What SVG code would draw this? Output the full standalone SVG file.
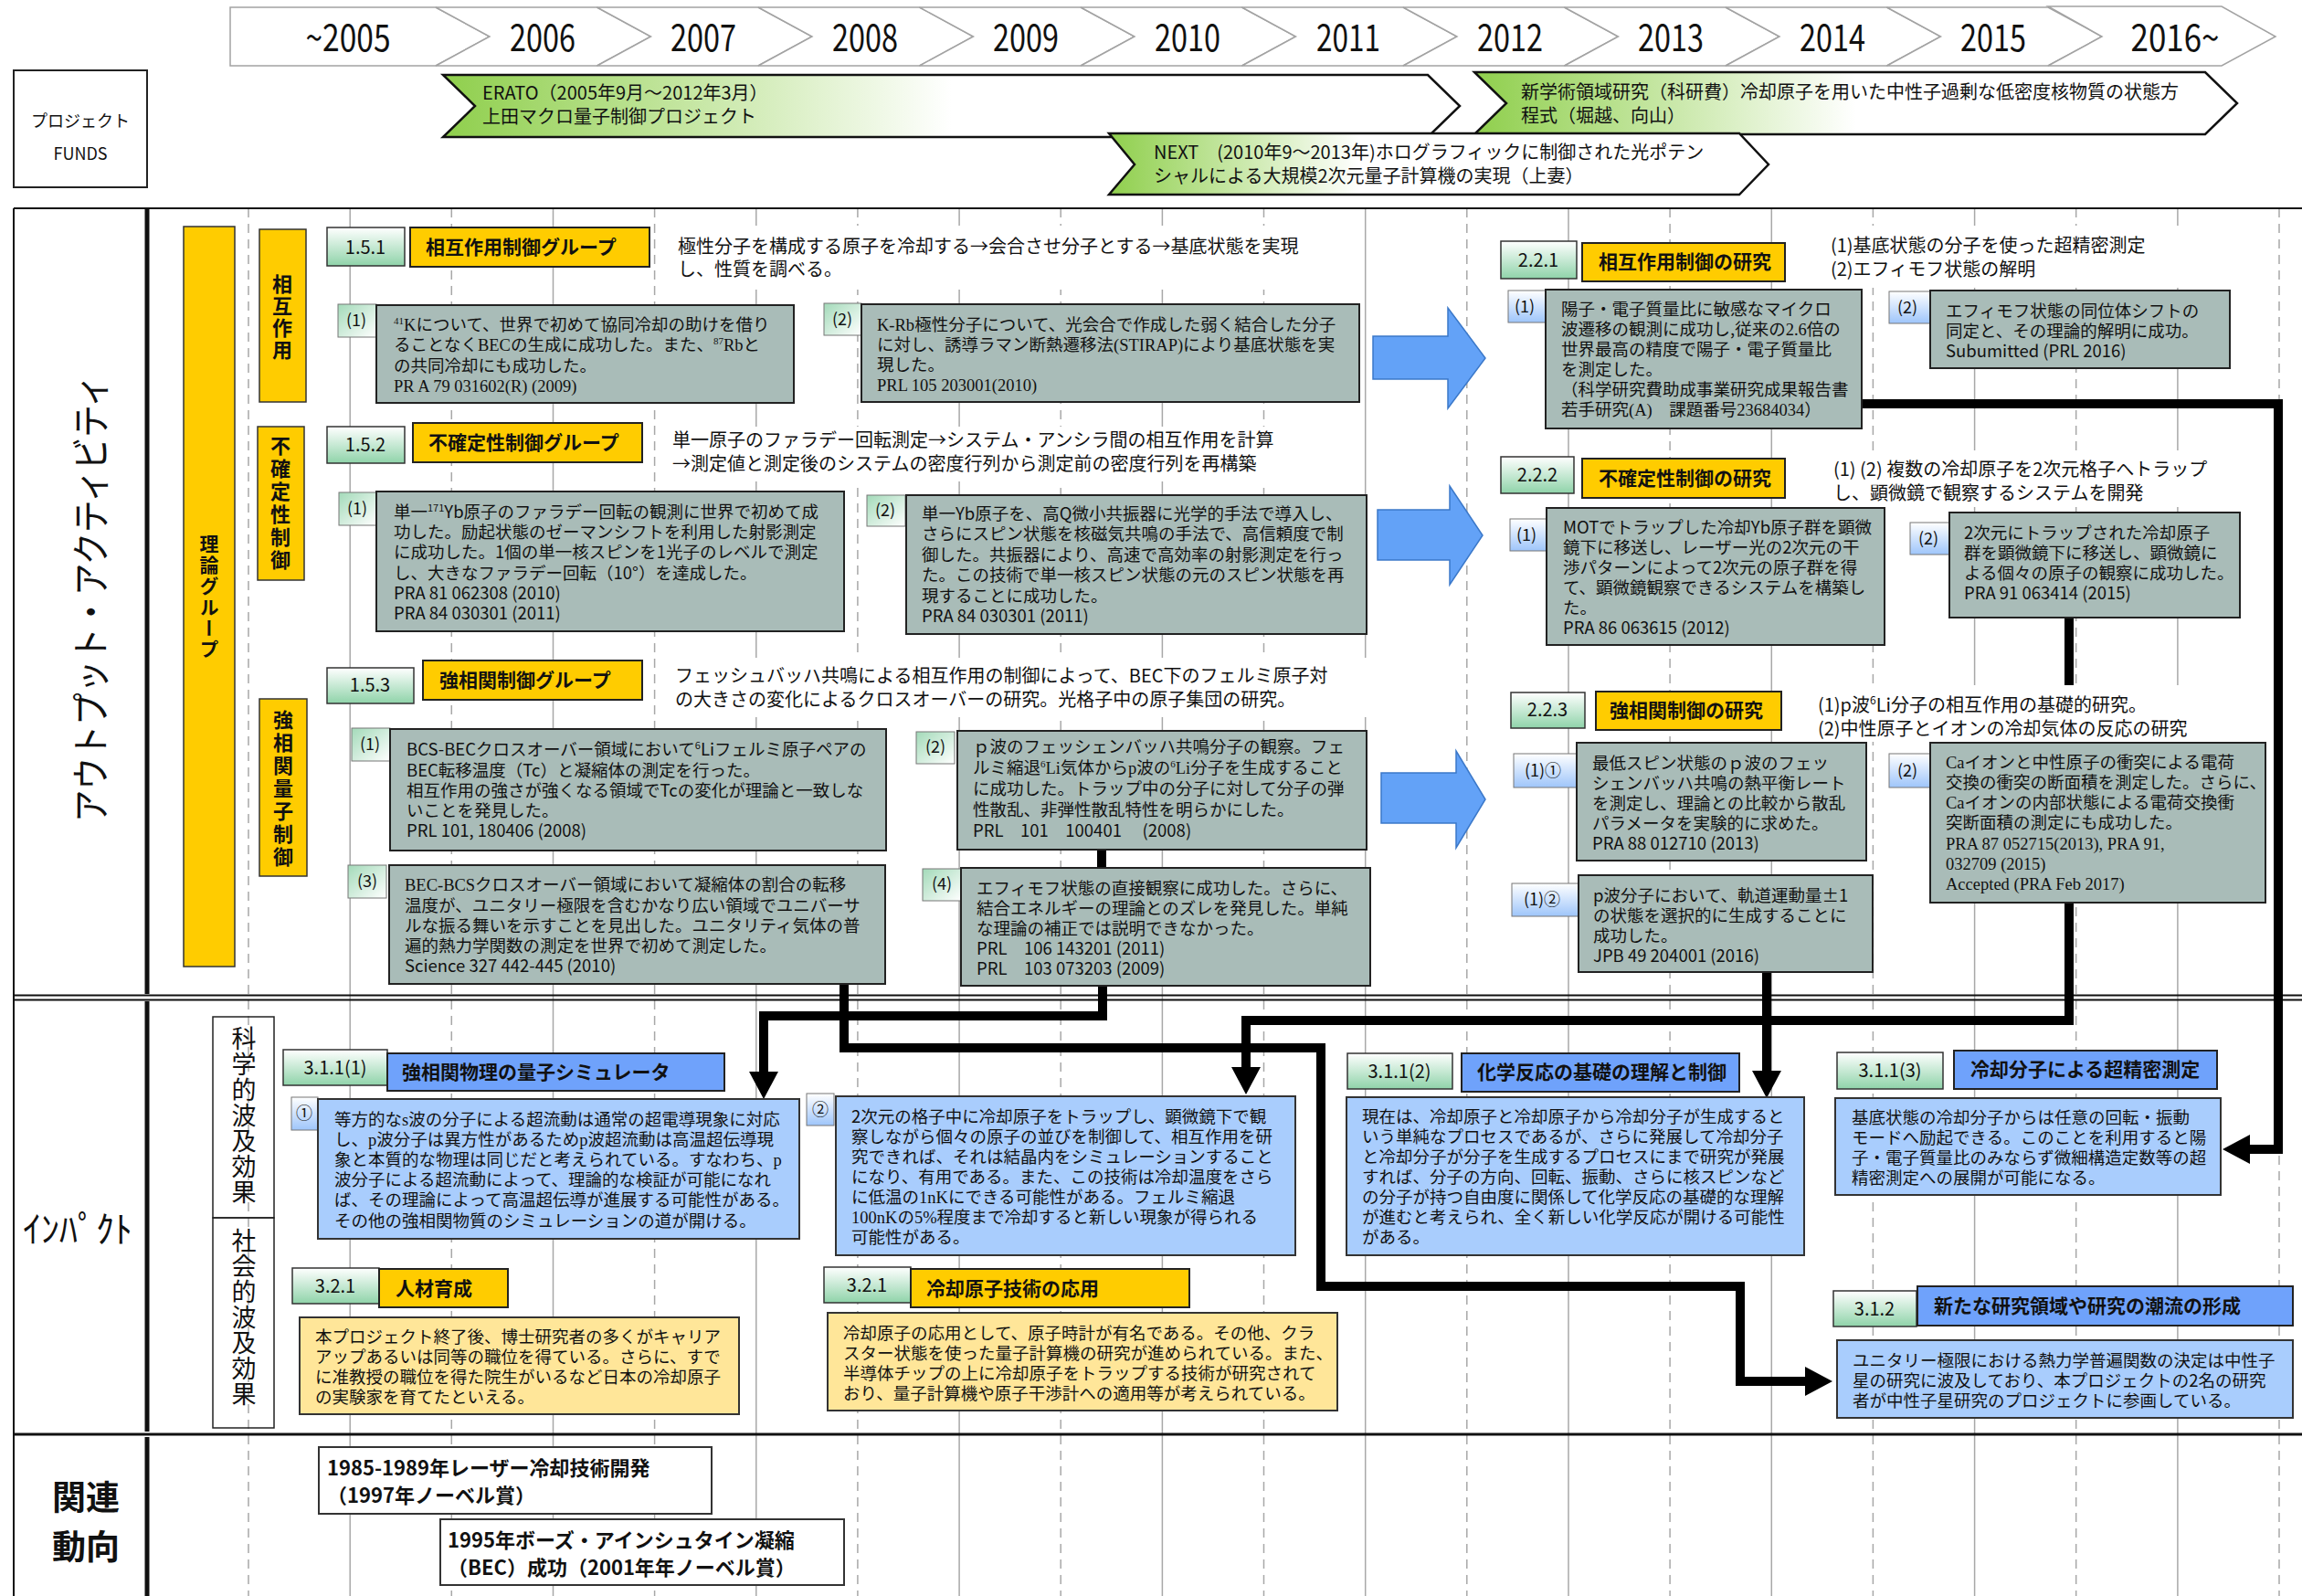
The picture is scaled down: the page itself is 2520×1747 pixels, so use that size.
<svg xmlns="http://www.w3.org/2000/svg" width="2520" height="1747" viewBox="0 0 2520 1747">
<defs>
<style>
text{font-family:"Noto Sans CJK JP","Noto Sans",sans-serif;fill:#111}
.t{font-size:18.5px}
.d{font-size:20px}
.h{font-size:21px;font-weight:bold}
.n{font-size:20px;text-anchor:middle}
.l{font-size:18px;text-anchor:middle}
.yr{font-size:40px;text-anchor:middle}
.s{font-family:"Liberation Serif","Noto Serif CJK JP",serif}
.v{writing-mode:vertical-rl;text-anchor:middle}
.grid{stroke:#a8a8a8;stroke-width:1.5}
.dash{stroke-dasharray:10 7}
.fr{stroke:#111;fill:none}
.chev{fill:#fff;stroke:#a3a3a3;stroke-width:1.5}
.fund{stroke:#111;stroke-width:2.5}
.gbox{fill:#a9bcb8;stroke:#222;stroke-width:2}
.lg{fill:url(#gLbl);stroke:#777;stroke-width:1}
.lb{fill:url(#bLbl);stroke:#777;stroke-width:1}
.num{fill:url(#gNum);stroke:#333;stroke-width:1.5}
.yt{fill:#ffcc00;stroke:#222;stroke-width:2}
.bt{fill:#6fa2fb;stroke:#222;stroke-width:2}
.bb{fill:#a9cdfd;stroke:#333;stroke-width:2}
.yb{fill:#ffe699;stroke:#333;stroke-width:2}
.wb{fill:#fff;stroke:none}
.conn{fill:none;stroke:#000;stroke-width:10;stroke-linejoin:miter;stroke-linecap:butt}
.barrow{fill:#63a2f7;stroke:#3b78c9;stroke-width:1.5}
.rel{fill:#fff;stroke:#333;stroke-width:2}
</style>
<linearGradient id="gNum" x1="0" y1="0" x2="0" y2="1"><stop offset="0" stop-color="#ffffff"/><stop offset="1" stop-color="#8fd3a9"/></linearGradient>
<linearGradient id="gLbl" x1="0" y1="0" x2="1" y2="1"><stop offset="0" stop-color="#a3dab9"/><stop offset="1" stop-color="#ffffff"/></linearGradient>
<linearGradient id="bLbl" x1="0" y1="0" x2="0" y2="1"><stop offset="0" stop-color="#ffffff"/><stop offset="1" stop-color="#9ec5fa"/></linearGradient>
<linearGradient id="gFund" x1="0" y1="0" x2="1" y2="0"><stop offset="0" stop-color="#8fcf4c"/><stop offset="0.5" stop-color="#ffffff"/></linearGradient>
<linearGradient id="gFund2" x1="0" y1="0" x2="1" y2="0"><stop offset="0" stop-color="#8fcf4c"/><stop offset="0.38" stop-color="#ffffff"/></linearGradient>
<marker id="ah" markerUnits="userSpaceOnUse" markerWidth="30" markerHeight="32" viewBox="0 0 30 32" refX="0" refY="16" orient="auto"><path d="M0,0 L30,16 L0,32 z" fill="#000"/></marker>
</defs>
<rect x="0" y="0" width="2520" height="1747" fill="#fff"/>

<g id="grid">
<line class="grid dash" x1="272" y1="228" x2="272" y2="1747"/>
<line class="grid" x1="383.2" y1="228" x2="383.2" y2="1747"/>
<line class="grid dash" x1="494.3" y1="228" x2="494.3" y2="1747"/>
<line class="grid" x1="605.5" y1="228" x2="605.5" y2="1747"/>
<line class="grid dash" x1="716.6" y1="228" x2="716.6" y2="1747"/>
<line class="grid" x1="827.8" y1="228" x2="827.8" y2="1747"/>
<line class="grid dash" x1="938.9" y1="228" x2="938.9" y2="1747"/>
<line class="grid" x1="1050.1" y1="228" x2="1050.1" y2="1747"/>
<line class="grid dash" x1="1161.2" y1="228" x2="1161.2" y2="1747"/>
<line class="grid" x1="1272.4" y1="228" x2="1272.4" y2="1747"/>
<line class="grid dash" x1="1383.5" y1="228" x2="1383.5" y2="1747"/>
<line class="grid" x1="1494.7" y1="228" x2="1494.7" y2="1747"/>
<line class="grid dash" x1="1605.8" y1="228" x2="1605.8" y2="1747"/>
<line class="grid" x1="1717" y1="228" x2="1717" y2="1747"/>
<line class="grid dash" x1="1828.1" y1="228" x2="1828.1" y2="1747"/>
<line class="grid" x1="1939.3" y1="228" x2="1939.3" y2="1747"/>
<line class="grid dash" x1="2050.4" y1="228" x2="2050.4" y2="1747"/>
<line class="grid" x1="2161.6" y1="228" x2="2161.6" y2="1747"/>
<line class="grid dash" x1="2272.7" y1="228" x2="2272.7" y2="1747"/>
<line class="grid" x1="2383.9" y1="228" x2="2383.9" y2="1747"/>
<line class="grid dash" x1="2495" y1="228" x2="2495" y2="1747"/>
</g>

<g id="frame">
<line class="fr" stroke-width="2" x1="15" y1="228" x2="2520" y2="228"/>
<line class="fr" stroke-width="2" x1="15" y1="228" x2="15" y2="1747"/>
<line class="fr" stroke-width="2" x1="15" y1="1089.5" x2="2520" y2="1089.5"/>
<line class="fr" stroke-width="2" x1="15" y1="1094.5" x2="2520" y2="1094.5"/>
<line class="fr" stroke-width="3" x1="15" y1="1570" x2="2520" y2="1570"/>
<line class="fr" stroke-width="5" x1="161" y1="228" x2="161" y2="1088"/>
<line class="fr" stroke-width="5" x1="161" y1="1096" x2="161" y2="1567"/>
<line class="fr" stroke-width="5" x1="161" y1="1573" x2="161" y2="1747"/>
</g>

<g id="timeline">
<polygon class="chev" points="252,8 477,8 536,40 477,72 252,72"/>
<polygon class="chev" points="477,8 653.5,8 712.5,40 653.5,72 477,72 536,40"/>
<polygon class="chev" points="653.5,8 830,8 889,40 830,72 653.5,72 712.5,40"/>
<polygon class="chev" points="830,8 1006.5,8 1065.5,40 1006.5,72 830,72 889,40"/>
<polygon class="chev" points="1006.5,8 1183,8 1242,40 1183,72 1006.5,72 1065.5,40"/>
<polygon class="chev" points="1183,8 1359.5,8 1418.5,40 1359.5,72 1183,72 1242,40"/>
<polygon class="chev" points="1359.5,8 1536,8 1595,40 1536,72 1359.5,72 1418.5,40"/>
<polygon class="chev" points="1536,8 1712.5,8 1771.5,40 1712.5,72 1536,72 1595,40"/>
<polygon class="chev" points="1712.5,8 1889,8 1948,40 1889,72 1712.5,72 1771.5,40"/>
<polygon class="chev" points="1889,8 2065.5,8 2124.5,40 2065.5,72 1889,72 1948,40"/>
<polygon class="chev" points="2065.5,8 2242,8 2301,40 2242,72 2065.5,72 2124.5,40"/>
<polygon class="chev" points="2242,7 2432,7 2491,40 2432,72 2242,72 2301,40"/>
<text class="yr" x="381" y="56" textLength="93" lengthAdjust="spacingAndGlyphs">~2005</text>
<text class="yr" x="594" y="56" textLength="72" lengthAdjust="spacingAndGlyphs">2006</text>
<text class="yr" x="770" y="56" textLength="72" lengthAdjust="spacingAndGlyphs">2007</text>
<text class="yr" x="947" y="56" textLength="72" lengthAdjust="spacingAndGlyphs">2008</text>
<text class="yr" x="1123" y="56" textLength="72" lengthAdjust="spacingAndGlyphs">2009</text>
<text class="yr" x="1300" y="56" textLength="72" lengthAdjust="spacingAndGlyphs">2010</text>
<text class="yr" x="1476" y="56" textLength="70" lengthAdjust="spacingAndGlyphs">2011</text>
<text class="yr" x="1653" y="56" textLength="72" lengthAdjust="spacingAndGlyphs">2012</text>
<text class="yr" x="1829" y="56" textLength="72" lengthAdjust="spacingAndGlyphs">2013</text>
<text class="yr" x="2006" y="56" textLength="72" lengthAdjust="spacingAndGlyphs">2014</text>
<text class="yr" x="2182" y="56" textLength="72" lengthAdjust="spacingAndGlyphs">2015</text>
<text class="yr" x="2381" y="56" textLength="97" lengthAdjust="spacingAndGlyphs">2016~</text>
</g>

<g id="funds-label">
<rect x="15" y="77" width="146" height="128" fill="#fff" stroke="#222" stroke-width="2"/>
<text x="88" y="139" font-size="18" text-anchor="middle">プロジェクト</text>
<text x="88" y="175" font-size="18" text-anchor="middle">FUNDS</text>
</g>

<g id="fund-erato">
<polygon class="fund" fill="url(#gFund)" points="485,82 1563,82 1598,116 1563,150 485,150 520,116"/>
<text class="d"><tspan x="528" y="109">ERATO（2005年9月～2012年3月）</tspan><tspan x="528" y="135">上田マクロ量子制御プロジェクト</tspan></text>
</g>
<g id="fund-kaken">
<polygon class="fund" fill="url(#gFund)" points="1614,79 2414,79 2449,113 2414,147 1614,147 1649,113"/>
<text class="d"><tspan x="1665" y="108">新学術領域研究（科研費）冷却原子を用いた中性子過剰な低密度核物質の状態方</tspan><tspan x="1665" y="134">程式（堀越、向山）</tspan></text>
</g>
<g id="fund-next">
<polygon class="fund" fill="url(#gFund2)" points="1214,146 1904,146 1936,180 1904,213 1214,213 1242,180"/>
<text class="d"><tspan x="1263" y="174">NEXT　(2010年9～2013年)ホログラフィックに制御された光ポテン</tspan><tspan x="1263" y="200">シャルによる大規模2次元量子計算機の実現（上妻）</tspan></text>
</g>

<g id="side-labels">
<text x="96" y="655" font-size="42" text-anchor="middle" dominant-baseline="central" transform="rotate(-90 96 655)" textLength="490" lengthAdjust="spacingAndGlyphs">アウトプット・アクティビティ</text>
<text x="85" y="1360" font-size="40" text-anchor="middle">ｲﾝﾊﾟｸﾄ</text>
<text x="94" y="1653" font-size="37" font-weight="bold" text-anchor="middle">関連</text>
<text x="94" y="1707" font-size="37" font-weight="bold" text-anchor="middle">動向</text>
</g>

<g id="connectors">
<polygon class="barrow" points="1503,368 1585,368 1585,337 1626,392 1585,447 1585,415 1503,415"/>
<polygon class="barrow" points="1508,558 1587,558 1587,532 1623,586 1587,640 1587,613 1508,613"/>
<polygon class="barrow" points="1512,846 1594,846 1594,822 1626,875 1594,928 1594,901 1512,901"/>
<path class="conn" d="M1206,930 V951"/>
<path class="conn" d="M2038,442 H2494 V1258 H2463" marker-end="url(#ah)"/>
<path class="conn" d="M924,1077 V1147 H1446 V1408 H1905 V1512 H1976" marker-end="url(#ah)"/>
<path class="conn" d="M1207,1079 V1112 H836 V1173" marker-end="url(#ah)"/>
<path class="conn" d="M1934,1064 V1172" marker-end="url(#ah)"/>
<path class="conn" d="M2265,676 V1117 H1364 V1168" marker-end="url(#ah)"/>
</g>

<g id="theory-group">
<rect x="201" y="248" width="56" height="810" fill="#ffcc00" stroke="#333" stroke-width="1.5"/>
<text class="v" x="229" y="654" font-size="21" font-weight="bold" letter-spacing="2">理論グループ</text>
</g>
<g id="grp-interaction">
<rect x="284" y="251" width="51" height="189" fill="#ffcc00" stroke="#333" stroke-width="1.5"/>
<text class="v" x="309" y="348" font-size="22" font-weight="bold" letter-spacing="2">相互作用</text>
</g>
<g id="grp-uncertainty">
<rect x="282" y="467" width="51" height="168" fill="#ffcc00" stroke="#333" stroke-width="1.5"/>
<text class="v" x="307" y="552" font-size="22" font-weight="bold" letter-spacing="3">不確定性制御</text>
</g>
<g id="grp-strong">
<rect x="284" y="765" width="52" height="194" fill="#ffcc00" stroke="#333" stroke-width="1.5"/>
<text class="v" x="310" y="864" font-size="22" font-weight="bold" letter-spacing="3">強相関量子制御</text>
</g>

<g id="h151">
<rect class="num" x="358" y="249" width="85" height="42"/>
<text class="n" x="400" y="278">1.5.1</text>
<rect class="yt" x="449" y="249" width="262" height="43"/>
<text class="h" x="466" y="278">相互作用制御グループ</text>
<rect class="wb" x="735" y="247" width="730" height="70"/>
<text class="d"><tspan x="742" y="277">極性分子を構成する原子を冷却する→会合させ分子とする→基底状態を実現</tspan><tspan x="742" y="302">し、性質を調べる。</tspan></text>
</g>
<g id="n151-1">
<rect class="lg" x="370" y="333" width="42" height="36"/>
<text class="l" x="390" y="357">(1)</text>
<rect class="gbox" x="412" y="334" width="457" height="107"/>
<text class="t"><tspan x="431" y="362"><tspan class="s" font-size="11" dy="-7">41</tspan><tspan class="s" dy="7">K</tspan>について、世界で初めて協同冷却の助けを借り</tspan><tspan x="431" y="384">ることなく<tspan class="s">BEC</tspan>の生成に成功した。また、<tspan class="s" font-size="11" dy="-7">87</tspan><tspan class="s" dy="7">Rb</tspan>と</tspan><tspan x="431" y="407">の共同冷却にも成功した。</tspan><tspan class="s" x="431" y="429">PR A 79 031602(R) (2009)</tspan></text>
</g>
<g id="n151-2">
<rect class="lg" x="902" y="332" width="41" height="35"/>
<text class="l" x="922" y="356">(2)</text>
<rect class="gbox" x="943" y="333" width="545" height="107"/>
<text class="t"><tspan x="960" y="362"><tspan class="s">K-Rb</tspan>極性分子について、光会合で作成した弱く結合した分子</tspan><tspan x="960" y="384">に対し、誘導ラマン断熱遷移法<tspan class="s">(STIRAP)</tspan>により基底状態を実</tspan><tspan x="960" y="406">現した。</tspan><tspan class="s" x="960" y="428">PRL 105 203001(2010)</tspan></text>
</g>

<g id="h152">
<rect class="num" x="358" y="467" width="85" height="40"/>
<text class="n" x="400" y="494">1.5.2</text>
<rect class="yt" x="452" y="463" width="251" height="43"/>
<text class="h" x="469" y="492">不確定性制御グループ</text>
<rect class="wb" x="732" y="467" width="730" height="60"/>
<text class="d"><tspan x="736" y="489">単一原子のファラデー回転測定→システム・アンシラ間の相互作用を計算</tspan><tspan x="736" y="515">→測定値と測定後のシステムの密度行列から測定前の密度行列を再構築</tspan></text>
</g>
<g id="n152-1">
<rect class="lg" x="371" y="539" width="41" height="36"/>
<text class="l" x="391" y="563">(1)</text>
<rect class="gbox" x="412" y="538" width="512" height="153"/>
<text class="t"><tspan x="431" y="567">単一<tspan font-size="11" dy="-7">171</tspan><tspan dy="7">Yb原子のファラデー回転の観測に世界で初めて成</tspan></tspan><tspan x="431" y="589">功した。励起状態のゼーマンシフトを利用した射影測定</tspan><tspan x="431" y="611">に成功した。1個の単一核スピンを1光子のレベルで測定</tspan><tspan x="431" y="634">し、大きなファラデー回転（10°）を達成した。</tspan><tspan x="431" y="656">PRA 81 062308 (2010)</tspan><tspan x="431" y="678">PRA 84 030301 (2011)</tspan></text>
</g>
<g id="n152-2">
<rect class="lg" x="949" y="542" width="42" height="34"/>
<text class="l" x="969" y="565">(2)</text>
<rect class="gbox" x="992" y="542" width="504" height="152"/>
<text class="t"><tspan x="1009" y="569">単一Yb原子を、高Q微小共振器に光学的手法で導入し、</tspan><tspan x="1009" y="591">さらにスピン状態を核磁気共鳴の手法で、高信頼度で制</tspan><tspan x="1009" y="614">御した。共振器により、高速で高効率の射影測定を行っ</tspan><tspan x="1009" y="636">た。この技術で単一核スピン状態の元のスピン状態を再</tspan><tspan x="1009" y="659">現することに成功した。</tspan><tspan x="1009" y="681">PRA 84 030301 (2011)</tspan></text>
</g>

<g id="h153">
<rect class="num" x="358" y="731" width="95" height="39"/>
<text class="n" x="405" y="757">1.5.3</text>
<rect class="yt" x="463" y="723" width="240" height="43"/>
<text class="h" x="481" y="752">強相関制御グループ</text>
<rect class="wb" x="732" y="720" width="768" height="65"/>
<text class="d"><tspan x="739" y="747">フェッシュバッハ共鳴による相互作用の制御によって、BEC下のフェルミ原子対</tspan><tspan x="739" y="773">の大きさの変化によるクロスオーバーの研究。光格子中の原子集団の研究。</tspan></text>
</g>
<g id="n153-1">
<rect class="lg" x="385" y="797" width="42" height="36"/>
<text class="l" x="405" y="821">(1)</text>
<rect class="gbox" x="427" y="798" width="543" height="133"/>
<text class="t"><tspan x="445" y="827">BCS-BECクロスオーバー領域において<tspan font-size="11" dy="-7">6</tspan><tspan dy="7">Liフェルミ原子ペアの</tspan></tspan><tspan x="445" y="850">BEC転移温度（Tc）と凝縮体の測定を行った。</tspan><tspan x="445" y="872">相互作用の強さが強くなる領域でTcの変化が理論と一致しな</tspan><tspan x="445" y="894">いことを発見した。</tspan><tspan x="445" y="916">PRL 101, 180406 (2008)</tspan></text>
</g>
<g id="n153-2">
<rect class="lg" x="1003" y="801" width="42" height="35"/>
<text class="l" x="1024" y="824">(2)</text>
<rect class="gbox" x="1048" y="800" width="448" height="130"/>
<text class="t"><tspan x="1065" y="824">ｐ波のフェッシェンバッハ共鳴分子の観察。フェ</tspan><tspan x="1065" y="847">ルミ縮退<tspan class="s" font-size="11" dy="-7">6</tspan><tspan class="s" dy="7">Li</tspan>気体から<tspan class="s">p</tspan>波の<tspan class="s" font-size="11" dy="-7">6</tspan><tspan class="s" dy="7">Li</tspan>分子を生成すること</tspan><tspan x="1065" y="870">に成功した。トラップ中の分子に対して分子の弾</tspan><tspan x="1065" y="893">性散乱、非弾性散乱特性を明らかにした。</tspan><tspan x="1065" y="916">PRL　101　100401　 (2008)</tspan></text>
</g>
<g id="n153-3">
<rect class="lg" x="381" y="947" width="42" height="36"/>
<text class="l" x="402" y="971">(3)</text>
<rect class="gbox" x="426" y="947" width="543" height="130"/>
<text class="t"><tspan x="443" y="975"><tspan class="s">BEC-BCS</tspan>クロスオーバー領域において凝縮体の割合の転移</tspan><tspan x="443" y="998">温度が、ユニタリー極限を含むかなり広い領域でユニバーサ</tspan><tspan x="443" y="1020">ルな振る舞いを示すことを見出した。ユニタリティ気体の普</tspan><tspan x="443" y="1042">遍的熱力学関数の測定を世界で初めて測定した。</tspan><tspan x="443" y="1064">Science 327 442-445 (2010)</tspan></text>
</g>
<g id="n153-4">
<rect class="lg" x="1010" y="951" width="42" height="35"/>
<text class="l" x="1031" y="974">(4)</text>
<rect class="gbox" x="1052" y="950" width="448" height="129"/>
<text class="t"><tspan x="1069" y="979">エフィモフ状態の直接観察に成功した。さらに、</tspan><tspan x="1069" y="1001">結合エネルギーの理論とのズレを発見した。単純</tspan><tspan x="1069" y="1023">な理論の補正では説明できなかった。</tspan><tspan x="1069" y="1045">PRL　106 143201 (2011)</tspan><tspan x="1069" y="1067">PRL　103 073203 (2009)</tspan></text>
</g>

<g id="h221">
<rect class="num" x="1643" y="264" width="83" height="41"/>
<text class="n" x="1684" y="292">2.2.1</text>
<rect class="yt" x="1732" y="266" width="222" height="42"/>
<text class="h" x="1750" y="294">相互作用制御の研究</text>
<rect class="wb" x="1995" y="247" width="400" height="68"/>
<text class="d"><tspan x="2004" y="276">(1)基底状態の分子を使った超精密測定</tspan><tspan x="2004" y="302">(2)エフィモフ状態の解明</tspan></text>
</g>
<g id="n221-1">
<rect class="lb" x="1651" y="318" width="49" height="35"/>
<text class="l" x="1669" y="342">(1)</text>
<rect class="gbox" x="1692" y="317" width="346" height="152"/>
<text class="t"><tspan x="1709" y="345">陽子・電子質量比に敏感なマイクロ</tspan><tspan x="1709" y="367">波遷移の観測に成功し,従来の<tspan class="s">2.6</tspan>倍の</tspan><tspan x="1709" y="389">世界最高の精度で陽子・電子質量比</tspan><tspan x="1709" y="411">を測定した。</tspan><tspan x="1709" y="433">（科学研究費助成事業研究成果報告書</tspan><tspan x="1709" y="455">若手研究<tspan class="s">(A)</tspan>　課題番号<tspan class="s">23684034</tspan>）</tspan></text>
</g>
<g id="n221-2">
<rect class="lb" x="2068" y="319" width="46" height="35"/>
<text class="l" x="2088" y="343">(2)</text>
<rect class="gbox" x="2113" y="318" width="328" height="85"/>
<text class="t"><tspan x="2130" y="347">エフィモフ状態の同位体シフトの</tspan><tspan x="2130" y="369">同定と、その理論的解明に成功。</tspan><tspan x="2130" y="391">Subumitted (PRL 2016)</tspan></text>
</g>

<g id="h222">
<rect class="num" x="1643" y="500" width="80" height="40"/>
<text class="n" x="1683" y="527">2.2.2</text>
<rect class="yt" x="1732" y="502" width="222" height="43"/>
<text class="h" x="1750" y="531">不確定性制御の研究</text>
<rect class="wb" x="2000" y="493" width="420" height="62"/>
<text class="d"><tspan x="2007" y="521">(1) (2) 複数の冷却原子を2次元格子へトラップ</tspan><tspan x="2007" y="547">し、顕微鏡で観察するシステムを開発</tspan></text>
</g>
<g id="n222-1">
<rect class="lb" x="1653" y="568" width="47" height="35"/>
<text class="l" x="1671" y="592">(1)</text>
<rect class="gbox" x="1693" y="556" width="370" height="150"/>
<text class="t"><tspan x="1711" y="584">MOTでトラップした冷却Yb原子群を顕微</tspan><tspan x="1711" y="606">鏡下に移送し、レーザー光の2次元の干</tspan><tspan x="1711" y="628">渉パターンによって2次元の原子群を得</tspan><tspan x="1711" y="650">て、顕微鏡観察できるシステムを構築し</tspan><tspan x="1711" y="672">た。</tspan><tspan x="1711" y="694">PRA 86 063615 (2012)</tspan></text>
</g>
<g id="n222-2">
<rect class="lb" x="2091" y="572" width="44" height="35"/>
<text class="l" x="2111" y="596">(2)</text>
<rect class="gbox" x="2134" y="561" width="318" height="115"/>
<text class="t"><tspan x="2150" y="590">2次元にトラップされた冷却原子</tspan><tspan x="2150" y="612">群を顕微鏡下に移送し、顕微鏡に</tspan><tspan x="2150" y="634">よる個々の原子の観察に成功した。</tspan><tspan x="2150" y="656">PRA 91 063414 (2015)</tspan></text>
</g>

<g id="h223">
<rect class="num" x="1654" y="758" width="81" height="39"/>
<text class="n" x="1694" y="784">2.2.3</text>
<rect class="yt" x="1747" y="757" width="203" height="42"/>
<text class="h" x="1762" y="785">強相関制御の研究</text>
<rect class="wb" x="1985" y="750" width="435" height="62"/>
<text class="d"><tspan x="1990" y="779">(1)p波<tspan font-size="12" dy="-8">6</tspan><tspan dy="8">Li分子の相互作用の基礎的研究。</tspan></tspan><tspan x="1990" y="805">(2)中性原子とイオンの冷却気体の反応の研究</tspan></text>
</g>
<g id="n223-1a">
<rect class="lb" x="1657" y="825" width="73" height="37"/>
<text class="l" x="1689" y="850" font-size="17">(1)①</text>
<rect class="gbox" x="1726" y="813" width="317" height="129"/>
<text class="t"><tspan x="1743" y="842">最低スピン状態のｐ波のフェッ</tspan><tspan x="1743" y="864">シェンバッハ共鳴の熱平衡レート</tspan><tspan x="1743" y="886">を測定し、理論との比較から散乱</tspan><tspan x="1743" y="908">パラメータを実験的に求めた。</tspan><tspan x="1743" y="930">PRA 88 012710 (2013)</tspan></text>
</g>
<g id="n223-1b">
<rect class="lb" x="1655" y="967" width="75" height="36"/>
<text class="l" x="1688" y="991" font-size="17">(1)②</text>
<rect class="gbox" x="1728" y="958" width="322" height="106"/>
<text class="t"><tspan x="1744" y="987">p波分子において、軌道運動量±1</tspan><tspan x="1744" y="1009">の状態を選択的に生成することに</tspan><tspan x="1744" y="1031">成功した。</tspan><tspan x="1744" y="1053">JPB 49 204001 (2016)</tspan></text>
</g>
<g id="n223-2">
<rect class="lb" x="2068" y="825" width="46" height="37"/>
<text class="l" x="2088" y="850">(2)</text>
<rect class="gbox" x="2113" y="813" width="367" height="175"/>
<text class="t"><tspan x="2130" y="841"><tspan class="s">Ca</tspan>イオンと中性原子の衝突による電荷</tspan><tspan x="2130" y="863">交換の衝突の断面積を測定した。さらに、</tspan><tspan x="2130" y="885"><tspan class="s">Ca</tspan>イオンの内部状態による電荷交換衝</tspan><tspan x="2130" y="907">突断面積の測定にも成功した。</tspan><tspan class="s" x="2130" y="930">PRA 87 052715(2013), PRA 91,</tspan><tspan class="s" x="2130" y="952">032709 (2015)</tspan><tspan class="s" x="2130" y="974">Accepted (PRA Feb 2017)</tspan></text>
</g>

<g id="impact-categories">
<rect x="233" y="1113" width="67" height="220" fill="none" stroke="#222" stroke-width="1.5"/>
<rect x="233" y="1333" width="67" height="230" fill="none" stroke="#222" stroke-width="1.5"/>
<text class="v" x="267" y="1221" font-size="27" letter-spacing="1">科学的波及効果</text>
<text class="v" x="267" y="1442" font-size="27" letter-spacing="1">社会的波及効果</text>
</g>

<g id="i3111">
<rect class="num" x="310" y="1149" width="114" height="39"/>
<text class="n" x="367" y="1176">3.1.1(1)</text>
<rect class="bt" x="424" y="1153" width="369" height="41"/>
<text class="h" x="440" y="1181">強相関物理の量子シミュレータ</text>
</g>
<g id="i3111-1">
<rect class="lb" x="319" y="1201" width="29" height="36"/>
<text class="l" x="333" y="1225">①</text>
<rect class="bb" x="348" y="1203" width="527" height="153"/>
<text class="t"><tspan x="366" y="1232">等方的な<tspan class="s">s</tspan>波の分子による超流動は通常の超電導現象に対応</tspan><tspan x="366" y="1254">し、<tspan class="s">p</tspan>波分子は異方性があるため<tspan class="s">p</tspan>波超流動は高温超伝導現</tspan><tspan x="366" y="1276">象と本質的な物理は同じだと考えられている。すなわち、<tspan class="s">p</tspan></tspan><tspan x="366" y="1298">波分子による超流動によって、理論的な検証が可能になれ</tspan><tspan x="366" y="1320">ば、その理論によって高温超伝導が進展する可能性がある。</tspan><tspan x="366" y="1343">その他の強相関物質のシミュレーションの道が開ける。</tspan></text>
</g>
<g id="i3111-2">
<rect class="lb" x="883" y="1197" width="30" height="35"/>
<text class="l" x="898" y="1221">②</text>
<rect class="bb" x="915" y="1200" width="503" height="174"/>
<text class="t"><tspan x="932" y="1229">2次元の格子中に冷却原子をトラップし、顕微鏡下で観</tspan><tspan x="932" y="1251">察しながら個々の原子の並びを制御して、相互作用を研</tspan><tspan x="932" y="1273">究できれば、それは結晶内をシミュレーションすること</tspan><tspan x="932" y="1295">になり、有用である。また、この技術は冷却温度をさら</tspan><tspan x="932" y="1317">に低温の<tspan class="s">1nK</tspan>にできる可能性がある。フェルミ縮退</tspan><tspan x="932" y="1339"><tspan class="s">100nK</tspan>の<tspan class="s">5%</tspan>程度まで冷却すると新しい現象が得られる</tspan><tspan x="932" y="1361">可能性がある。</tspan></text>
</g>
<g id="i3112">
<rect class="num" x="1475" y="1153" width="115" height="39"/>
<text class="n" x="1532" y="1180">3.1.1(2)</text>
<rect class="bt" x="1600" y="1153" width="304" height="42"/>
<text class="h" x="1617" y="1181">化学反応の基礎の理解と制御</text>
<rect class="bb" x="1474" y="1201" width="501" height="173"/>
<text class="t"><tspan x="1491" y="1229">現在は、冷却原子と冷却原子から冷却分子が生成すると</tspan><tspan x="1491" y="1251">いう単純なプロセスであるが、さらに発展して冷却分子</tspan><tspan x="1491" y="1273">と冷却分子が分子を生成するプロセスにまで研究が発展</tspan><tspan x="1491" y="1295">すれば、分子の方向、回転、振動、さらに核スピンなど</tspan><tspan x="1491" y="1317">の分子が持つ自由度に関係して化学反応の基礎的な理解</tspan><tspan x="1491" y="1339">が進むと考えられ、全く新しい化学反応が開ける可能性</tspan><tspan x="1491" y="1361">がある。</tspan></text>
</g>
<g id="i3113">
<rect class="num" x="2011" y="1152" width="116" height="40"/>
<text class="n" x="2069" y="1179">3.1.1(3)</text>
<rect class="bt" x="2139" y="1150" width="288" height="42"/>
<text class="h" x="2157" y="1178">冷却分子による超精密測定</text>
<rect class="bb" x="2009" y="1202" width="422" height="106"/>
<text class="t"><tspan x="2027" y="1230">基底状態の冷却分子からは任意の回転・振動</tspan><tspan x="2027" y="1252">モードへ励起できる。このことを利用すると陽</tspan><tspan x="2027" y="1274">子・電子質量比のみならず微細構造定数等の超</tspan><tspan x="2027" y="1296">精密測定への展開が可能になる。</tspan></text>
</g>
<g id="i312">
<rect class="num" x="2007" y="1413" width="91" height="39"/>
<text class="n" x="2052" y="1440">3.1.2</text>
<rect class="bt" x="2099" y="1408" width="411" height="43"/>
<text class="h" x="2117" y="1437">新たな研究領域や研究の潮流の形成</text>
<rect class="bb" x="2011" y="1467" width="499" height="85"/>
<text class="t"><tspan x="2028" y="1496">ユニタリー極限における熱力学普遍関数の決定は中性子</tspan><tspan x="2028" y="1518">星の研究に波及しており、本プロジェクトの2名の研究</tspan><tspan x="2028" y="1540">者が中性子星研究のプロジェクトに参画している。</tspan></text>
</g>
<g id="i321-a">
<rect class="num" x="320" y="1388" width="95" height="39"/>
<text class="n" x="367" y="1415">3.2.1</text>
<rect class="yt" x="415" y="1389" width="141" height="42"/>
<text class="h" x="433" y="1418">人材育成</text>
<rect class="yb" x="328" y="1442" width="481" height="106"/>
<text class="t"><tspan x="345" y="1470">本プロジェクト終了後、博士研究者の多くがキャリア</tspan><tspan x="345" y="1492">アップあるいは同等の職位を得ている。さらに、すで</tspan><tspan x="345" y="1514">に准教授の職位を得た院生がいるなど日本の冷却原子</tspan><tspan x="345" y="1536">の実験家を育てたといえる。</tspan></text>
</g>
<g id="i321-b">
<rect class="num" x="902" y="1387" width="95" height="39"/>
<text class="n" x="949" y="1414">3.2.1</text>
<rect class="yt" x="997" y="1389" width="305" height="42"/>
<text class="h" x="1014" y="1418">冷却原子技術の応用</text>
<rect class="yb" x="906" y="1437" width="558" height="107"/>
<text class="t"><tspan x="923" y="1466">冷却原子の応用として、原子時計が有名である。その他、クラ</tspan><tspan x="923" y="1488">スター状態を使った量子計算機の研究が進められている。また、</tspan><tspan x="923" y="1510">半導体チップの上に冷却原子をトラップする技術が研究されて</tspan><tspan x="923" y="1532">おり、量子計算機や原子干渉計への適用等が考えられている。</tspan></text>
</g>

<g id="rel-1">
<rect class="rel" x="349" y="1584" width="430" height="73"/>
<text font-size="22" font-weight="bold"><tspan x="358" y="1615">1985-1989年レーザー冷却技術開発</tspan><tspan x="358" y="1645">（1997年ノーベル賞）</tspan></text>
</g>
<g id="rel-2">
<rect class="rel" x="482" y="1663" width="442" height="72"/>
<text font-size="22" font-weight="bold"><tspan x="490" y="1694">1995年ボーズ・アインシュタイン凝縮</tspan><tspan x="490" y="1724">（BEC）成功（2001年年ノーベル賞）</tspan></text>
</g>
</svg>
